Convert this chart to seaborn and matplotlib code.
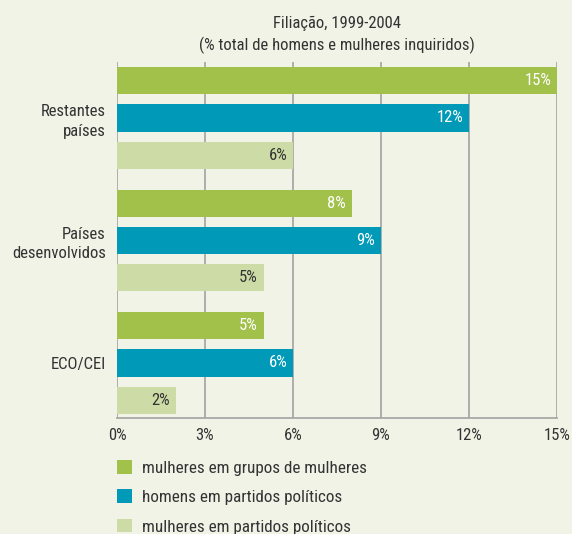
import numpy as np
import matplotlib
matplotlib.use('Agg')
import matplotlib.pyplot as plt
import pandas as pd
import seaborn as sns

# data
regions = ['Restantes\npaíses', 'Países\ndesenvolvidos', 'ECO/CEI']
series = ['mulheres em grupos de mulheres',
          'homens em partidos políticos',
          'mulheres em partidos políticos']
women_groups = [15, 8, 5]
men_parties = [12, 9, 6]
women_parties = [6, 5, 2]
xticks = [0, 3, 6, 9, 12, 15]

colors = ['#a1c14b', '#009ab8', '#cddca6']
bg = '#f0f3e6'
txt = '#333333'

# long table for seaborn
df = pd.DataFrame({
    'region': regions * 3,
    'serie': [series[0]] * 3 + [series[1]] * 3 + [series[2]] * 3,
    'value': women_groups + men_parties + women_parties,
})

sns.set_style('white')
plt.rcParams['font.family'] = ['Roboto Condensed', 'DejaVu Sans']
fs = 12

fig = plt.figure(figsize=(5.72, 5.34), dpi=100, facecolor=bg)
ax = fig.add_axes([117/572, 1-418/534, 440/572, 356/534])
ax.set_facecolor(bg)

sns.barplot(data=df, y='region', x='value', hue='serie', orient='h',
            order=regions, hue_order=series, palette=colors,
            width=0.91, gap=0.27, saturation=1, linewidth=0, ax=ax)

# labels inside bar ends
for i, cont in enumerate(ax.containers):
    for bar in cont:
        w = bar.get_width()
        yc = bar.get_y() + bar.get_height() / 2
        ax.text(w - 0.2, yc, '%d%%' % w, ha='right', va='center',
                fontsize=fs, color='white' if i < 2 else txt)

ax.set_xlim(0, 15)
ax.set_ylim(2.449, -0.457)
ax.set_xticks(xticks)
ax.set_xticklabels(['%d%%' % t for t in xticks])
ax.tick_params(axis='x', length=0, pad=7, labelsize=fs, colors=txt)
ax.tick_params(axis='y', length=0, pad=8, labelsize=fs, colors=txt)
for lab in ax.get_yticklabels():
    lab.set_horizontalalignment('right')
    lab.set_multialignment('right')
    lab.set_linespacing(1.35)
ax.set_xlabel('')
ax.set_ylabel('')
ax.grid(axis='x', color='#a8a8a8', linewidth=1.3)
ax.set_axisbelow(True)
for s in ['top', 'right', 'left']:
    ax.spines[s].set_visible(False)
ax.spines['bottom'].set_color('#a8a8a8')
ax.spines['bottom'].set_linewidth(1.3)

handles, labels = ax.get_legend_handles_labels()
ax.get_legend().remove()
fig.legend(handles, labels, loc='upper left', bbox_to_anchor=(117/572, 1-460/534),
           frameon=False, fontsize=12.3, handlelength=0.85, handleheight=0.85,
           handletextpad=0.6, labelspacing=0.8, labelcolor=txt, borderpad=0,
           borderaxespad=0)

fig.text(337/572, 1-23/534, 'Filiação, 1999-2004', ha='center', va='center',
         fontsize=fs, color=txt)
fig.text(337/572, 1-45/534, '(% total de homens e mulheres inquiridos)',
         ha='center', va='center', fontsize=fs, color=txt)

fig.savefig('out.png', dpi=100, facecolor=bg)
